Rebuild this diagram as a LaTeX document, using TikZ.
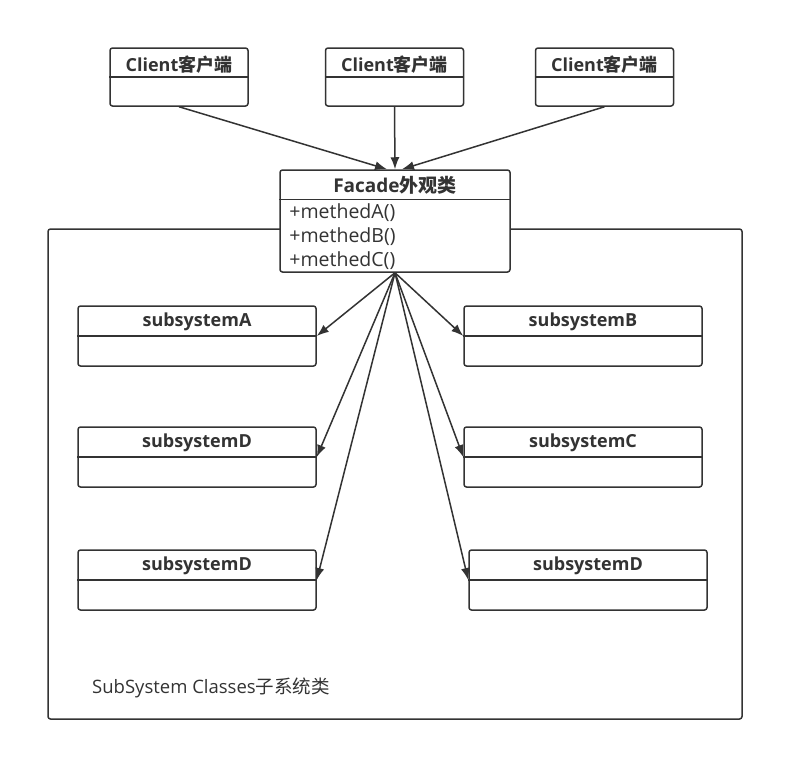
\documentclass[tikz,border=0pt]{standalone}
\usepackage{fontspec}
\setmainfont{Open Sans}
\newfontfamily\cjk{Noto Sans CJK SC}
\usetikzlibrary{arrows.meta,calc}
\definecolor{ink}{HTML}{333333}
\begin{document}
\begin{tikzpicture}[x=1pt,y=-1pt,
  box/.style={draw=ink, fill=white, line width=1.5pt, rounded corners=2.5pt, inner sep=0pt},
  ttl/.style={font=\fontsize{18}{21}\selectfont\bfseries, text=ink, inner sep=0pt},
  mth/.style={font=\fontsize{19.5}{22}\selectfont, text=ink, inner sep=0pt, anchor=west},
  conn/.style={draw=ink, line width=1.5pt, -{Latex[length=12pt,width=9pt]}},
  div/.style={draw=ink, line width=1.5pt}]
\useasboundingbox (0,0) rectangle (804,782);
\fill[white] (0,0) rectangle (804,782);
% outer frame
\node[box, minimum width=694pt, minimum height=490pt] (frame) at (395,474) {};
\node[mth, font=\fontsize{18.5}{21}\selectfont] (lbl) at (92,688) {SubSystem Classes{\cjk 子系统类}};
% clients
\foreach \n/\cx in {c1/179, c2/394.5, c3/604.5}{
  \node[box, minimum width=138pt, minimum height=58pt] (\n) at (\cx,77) {};
  \draw[div] (\n.west) -- (\n.east);
  \node[ttl] (\n t) at ($(\n.north)+(0,17)$) {Client{\cjk\bfseries 客户端}};
}
% facade
\node[box, minimum width=230pt, minimum height=102pt] (fac) at (395,221) {};
\draw[div] ($(fac.north west)+(0,30)$) -- ($(fac.north east)+(0,30)$);
\node[ttl, font=\fontsize{19}{22}\selectfont\bfseries] (fact) at ($(fac.north)+(0,16)$) {Facade{\cjk\bfseries 外观类}};
\node[mth] (mA) at ($(fac.north west)+(10,43)$) {+methedA()};
\node[mth] (mB) at ($(fac.north west)+(10,67)$) {+methedB()};
\node[mth] (mC) at ($(fac.north west)+(10,91)$) {+methedC()};
% subsystems
\foreach \n/\cx/\cy/\t in {sA/197/336/subsystemA, sB/583/336/subsystemB, sD1/197/457/subsystemD, sC/583/457/subsystemC, sD2/197/580/subsystemD, sD3/588/580/subsystemD}{
  \node[box, minimum width=238pt, minimum height=60pt] (\n) at (\cx,\cy) {};
  \draw[div] (\n.west) -- (\n.east);
  \node[ttl] (\n t) at ($(\n.north)+(0,17)$) {\t};
}
% connectors
\draw[conn] (c1.south) -- ($(fac.north)+(-8,0)$);
\draw[conn] (c2.south) -- (fac.north);
\draw[conn] (c3.south) -- ($(fac.north)+(7,0)$);
\foreach \t in {sA, sD1, sD2}{\draw[conn] (fac.south) -- (\t.east);}
\foreach \t in {sB, sC, sD3}{\draw[conn] (fac.south) -- (\t.west);}
\end{tikzpicture}
\end{document}
